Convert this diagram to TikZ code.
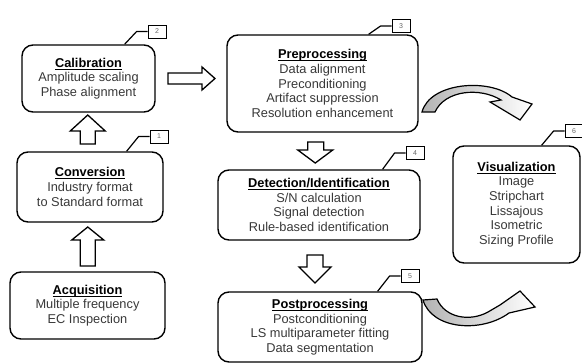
\documentclass[tikz,border=0pt]{standalone}
\usepackage{fontspec}
\setmainfont{Liberation Sans}
\usetikzlibrary{calc}
\newcommand\boxtitle[1]{\setbox0\hbox{\textbf{#1}}\textcolor{black}{\rlap{\raisebox{-2.2pt}{\rule{\wd0}{0.9pt}}}\box0}}
\begin{document}
\begin{tikzpicture}[x=1pt,y=-1pt,
 box/.style={draw, line width=1.4pt, rounded corners=11pt, align=center, inner sep=0pt,
   font=\fontsize{12.8}{14.6}\selectfont, text=black!78},
 tag/.style={draw, line width=0.8pt, minimum width=18pt, minimum height=13pt, inner sep=0pt,
   font=\fontsize{7}{8}\selectfont, text=black!60},
 lead/.style={line width=1.2pt, line join=round},
 blk/.style={draw, line width=1.3pt, fill=white, line join=miter},
 curv/.style={draw, line width=1.2pt, line join=miter, left color=black!30, right color=white}
]
\useasboundingbox (0,0) rectangle (582,364);

% boxes
\node[box, minimum width=133pt, minimum height=67pt] (cal) at (88.5,78.5)
  {\boxtitle{Calibration}\\Amplitude scaling\\Phase alignment};
\node[box, minimum width=146pt, minimum height=70pt] (conv) at (90,187)
  {\boxtitle{Conversion}\\Industry format\\to Standard format};
\node[box, minimum width=155pt, minimum height=67pt] (acq) at (87.5,305.5)
  {\boxtitle{Acquisition}\\Multiple frequency\\EC Inspection};
\node[box, minimum width=191pt, minimum height=97pt] (pre) at (322.5,83.5)
  {\boxtitle{Preprocessing}\\Data alignment\\Preconditioning\\Artifact suppression\\Resolution enhancement};
\node[box, minimum width=202pt, minimum height=70pt] (det) at (319,205)
  {\boxtitle{Detection/Identification}\\S/N calculation\\Signal detection\\Rule-based identification};
\node[box, minimum width=204pt, minimum height=70pt] (post) at (320,327)
  {\boxtitle{Postprocessing}\\Postconditioning\\LS multiparameter fitting\\Data segmentation};
\node[box, minimum width=127pt, minimum height=117pt] (vis) at (516.5,204.5)
  {\boxtitle{Visualization}\\Image\\Stripchart\\Lissajous\\Isometric\\Sizing Profile};

% number tags
\node[tag] (t1) at (159,136.5) {1};
\node[tag] (t2) at (157,31.5) {2};
\node[tag] (t3) at (401,26) {3};
\node[tag] (t4) at (415,153) {4};
\node[tag] (t5) at (410,276) {5};
\node[tag] (t6) at (574,131) {6};

% leaders
\draw[lead] (t1.west) -- ++(-11,0) -- ($(t1.west |- conv.north)+(-23,0)$);
\draw[lead] (t2.west) -- ++(-11,0) -- ($(t2.west |- cal.north)+(-23,0)$);
\draw[lead] (t3.west) -- ++(-11,0) -- ($(t3.west |- pre.north)+(-23,0)$);
\draw[lead] (t4.west) -- ++(-11,0) -- ($(t4.west |- det.north)+(-23,0)$);
\draw[lead] (t5.west) -- ++(-11,0) -- ($(t5.west |- post.north)+(-23,0)$);
\draw[lead] (t6.west) -- ++(-11,0) -- ($(t6.west |- vis.north)+(-23,0)$);

% block arrows
\coordinate (m1) at ($(cal.south)!.5!(conv.north)$);
\draw[blk, shift={(m1)}] (-9,12) -- (-9,-1) -- (-19,-1) -- (-1.5,-17) -- (16,-1) -- (6,-1) -- (6,12) -- cycle;
\coordinate (m2) at ($(conv.south)!.5!(acq.north)$);
\draw[blk, shift={(m2)}] (-8.5,19) -- (-8.5,-7) -- (-17,-7) -- (-1,-20) -- (15,-7) -- (6.5,-7) -- (6.5,19) -- cycle;
\coordinate (m3) at ($(cal.east)!.5!(cal.east -| pre.west)$);
\draw[blk, shift={(m3)}] (-23,-5.5) -- (11,-5.5) -- (11,-11.5) -- (24,0) -- (11,11.5) -- (11,5.5) -- (-23,5.5) -- cycle;
\coordinate (m4) at ($(pre.south)!.5!(det.north)$);
\draw[blk, shift={(m4)}] (-13,-9) -- (-13,-1) -- (-23,-1) -- (-5.5,12) -- (12,-1) -- (3,-1) -- (3,-9) -- cycle;
\coordinate (m5) at ($(det.south)!.5!(post.north)$);
\draw[blk, shift={(m5)}] (-12.5,-11) -- (-12.5,1) -- (-20.5,1) -- (-4.5,17) -- (11.5,1) -- (3.5,1) -- (3.5,-11) -- cycle;

% curved arrows
\draw[curv] (422,112) .. controls (430,82) and (490,78) .. (512,97) -- (532,104) -- (520,120)
  -- (490,102) -- (501,100) .. controls (480,87) and (445,90) .. (435,112) -- cycle;
\draw[curv] (423,300) .. controls (432,330) and (482,333) .. (509,313) -- (535,307) -- (520,291)
  -- (500,305) -- (488,312) .. controls (470,322) and (445,318) .. (437,299) -- cycle;
\end{tikzpicture}
\end{document}
